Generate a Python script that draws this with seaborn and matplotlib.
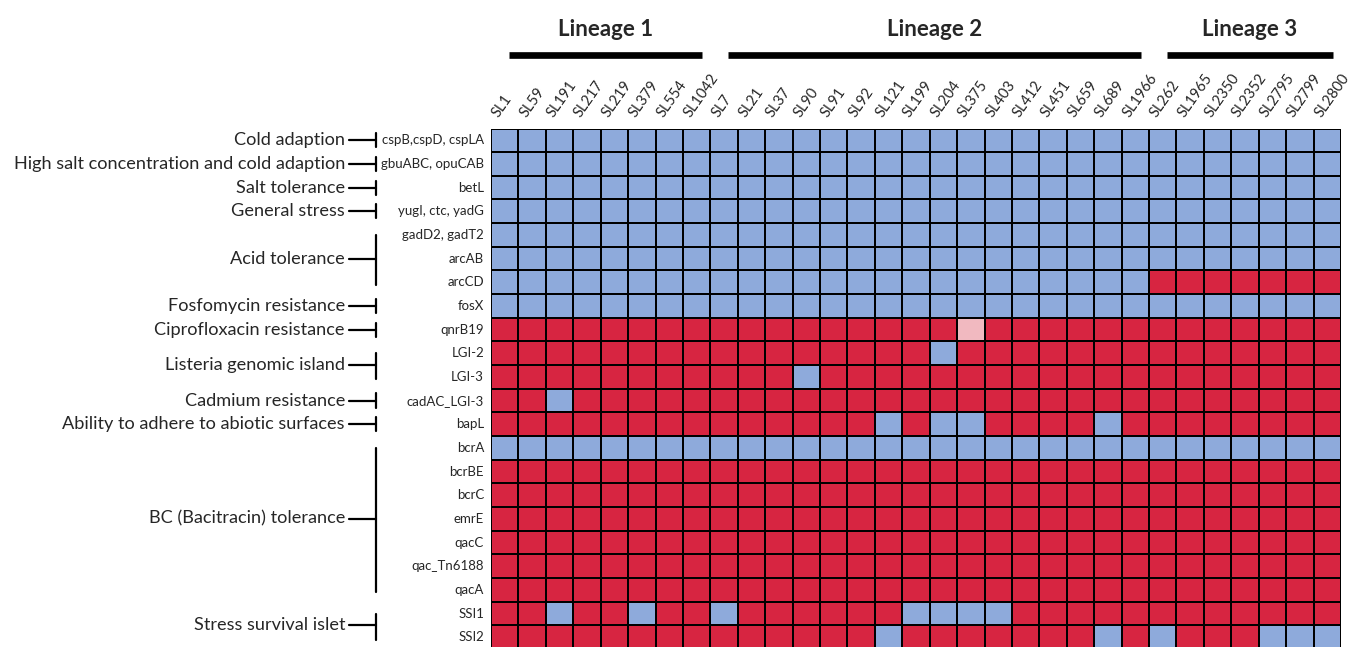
import numpy as np
import pandas as pd
import seaborn as sns
import matplotlib
matplotlib.use("Agg")
import matplotlib.pyplot as plt
from matplotlib.colors import ListedColormap
from matplotlib.transforms import blended_transform_factory, ScaledTranslation

# ---------------- data ----------------
strains = ["SL1", "SL59", "SL191", "SL217", "SL219", "SL379", "SL554", "SL1042",
           "SL7", "SL21", "SL37", "SL90", "SL91", "SL92", "SL121", "SL199", "SL204",
           "SL375", "SL403", "SL412", "SL451", "SL659", "SL689", "SL1966",
           "SL262", "SL1965", "SL2350", "SL2352", "SL2795", "SL2799", "SL2800"]

lineages = ["Lineage 1", "Lineage 2", "Lineage 3"]
lineage_sizes = [8, 16, 7]

genes = ["cspB,cspD, cspLA", "gbuABC, opuCAB", "betL", "yugI, ctc, yadG",
         "gadD2, gadT2", "arcAB", "arcCD", "fosX", "qnrB19", "LGI-2", "LGI-3",
         "cadAC_LGI-3", "bapL", "bcrA", "bcrBE", "bcrC", "emrE", "qacC",
         "qac_Tn6188", "qacA", "SSI1", "SSI2"]

# '+' = blue, '-' = red, '~' = light pink ; grouped by lineage (8 / 16 / 7)
gene_rows = [
    "++++++++ ++++++++++++++++ +++++++",  # cspB
    "++++++++ ++++++++++++++++ +++++++",  # gbuABC
    "++++++++ ++++++++++++++++ +++++++",  # betL
    "++++++++ ++++++++++++++++ +++++++",  # yugI
    "++++++++ ++++++++++++++++ +++++++",  # gadD2
    "++++++++ ++++++++++++++++ +++++++",  # arcAB
    "++++++++ ++++++++++++++++ -------",  # arcCD
    "++++++++ ++++++++++++++++ +++++++",  # fosX
    "-------- ---------~------ -------",  # qnrB19
    "-------- --------+------- -------",  # LGI-2
    "-------- ---+------------ -------",  # LGI-3
    "--+----- ---------------- -------",  # cadAC_LGI-3
    "-------- ------+-++----+- -------",  # bapL
    "++++++++ ++++++++++++++++ +++++++",  # bcrA
    "-------- ---------------- -------",  # bcrBE
    "-------- ---------------- -------",  # bcrC
    "-------- ---------------- -------",  # emrE
    "-------- ---------------- -------",  # qacC
    "-------- ---------------- -------",  # qac_Tn6188
    "-------- ---------------- -------",  # qacA
    "--+--+-- +------++++----- -------",  # SSI1
    "-------- ------+-------+- +---+++",  # SSI2
]

groups = [("Cold adaption", 0, 0),
          ("High salt concentration and cold adaption", 1, 1),
          ("Salt tolerance", 2, 2),
          ("General stress", 3, 3),
          ("Acid tolerance", 4, 6),
          ("Fosfomycin resistance", 7, 7),
          ("Ciprofloxacin resistance", 8, 8),
          ("Listeria genomic island", 9, 10),
          ("Cadmium resistance", 11, 11),
          ("Ability to adhere to abiotic surfaces", 12, 12),
          ("BC (Bacitracin) tolerance", 13, 19),
          ("Stress survival islet", 20, 21)]

code = {"-": 0, "~": 1, "+": 2}
matrix = pd.DataFrame([[code[c] for c in r.replace(" ", "")] for r in gene_rows],
                      index=genes, columns=strains)

# ---------------- style ----------------
RED, PINK, BLUE = "#D72541", "#F1B9C0", "#8EAADB"
sns.set_style("white")
plt.rcParams["font.family"] = ["Lato", "DejaVu Sans"]

W, H = 1351, 647
fig = plt.figure(figsize=(W / 100, H / 100), dpi=100)
ax = fig.add_axes([491 / W, -2 / H, 850 / W, (H - 126.5) / H])

sns.heatmap(matrix, cmap=ListedColormap([RED, PINK, BLUE]), vmin=0, vmax=2,
            cbar=False, linewidths=1.2, linecolor="black", ax=ax)

# gene labels (left)
ax.set_yticks(np.arange(len(genes)) + 0.5)
ax.set_yticklabels(genes, rotation=0, fontsize=9.5, ha="right")
ax.tick_params(axis="y", length=0, pad=5)
ax.set_xticks([])
ax.set_xlabel("")
ax.set_ylabel("")

# strain labels (top, rotated)
off = ScaledTranslation(-6 / 100, 10 / 100, fig.dpi_scale_trans)
for i, s in enumerate(strains):
    ax.text(i + 0.5, 0, s, transform=ax.transData + off, rotation=55,
            rotation_mode="anchor", ha="left", va="baseline", fontsize=10.5,
            clip_on=False)

# lineage headers
trL = blended_transform_factory(ax.transData, fig.transFigure)
start = 0
for name, size in zip(lineages, lineage_sizes):
    x0 = start + 0.65
    x1 = start + size - 1 + 0.7
    ax.plot([x0, x1], [1 - 55 / H] * 2, transform=trL, color="black", lw=4.8,
            solid_capstyle="butt", clip_on=False)
    ax.text((x0 + x1) / 2, 1 - 36 / H, name, transform=trL, ha="center",
            va="baseline", fontsize=16, fontweight="bold", clip_on=False)
    start += size

# functional group brackets (left)
trG = blended_transform_factory(fig.transFigure, ax.transData)
for label, a, b in groups:
    ymid = (a + b + 1) / 2
    ax.text(345 / W, ymid, label, transform=trG, ha="right", va="center",
            fontsize=13.05, clip_on=False)
    ax.plot([349 / W, 376 / W], [ymid, ymid], transform=trG, color="black",
            lw=1.6, clip_on=False)
    if a == b:
        ax.plot([376 / W] * 2, [ymid - 0.3, ymid + 0.3], transform=trG,
                color="black", lw=1.6, clip_on=False)
    else:
        ax.plot([376 / W] * 2, [a + 0.5, b + 0.6], transform=trG,
                color="black", lw=1.6, clip_on=False)

fig.savefig("out.png", dpi=100)
